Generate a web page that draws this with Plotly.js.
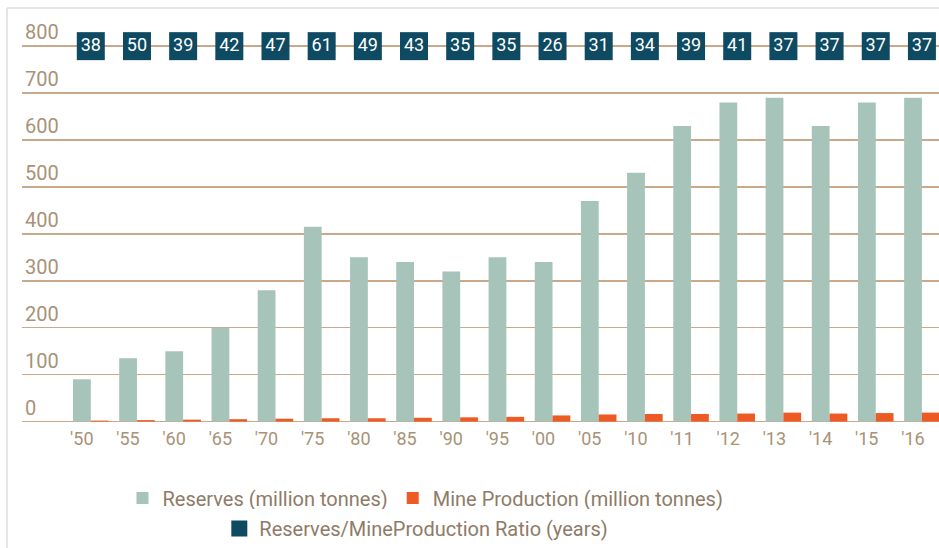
<!DOCTYPE html>
<html>
<head>
<meta charset="utf-8">
<script src="https://cdn.plot.ly/plotly-3.0.1.min.js"></script>
<style>html,body{margin:0;padding:0;background:#fff;}#chart{width:939px;height:548px;}</style>
</head>
<body>
<div id="chart"></div>
<script>
const years = ["'50","'55","'60","'65","'70","'75","'80","'85","'90","'95","'00","'05","'10","'11","'12","'13","'14","'15","'16"];
const reserves = [90,135,150,200,280,415,350,340,320,350,340,470,530,630,680,690,630,680,690];
const production = [2,3,4,5,6,7,7,8,9,10,13,15,16,16,17,19,17,18,19];
const ratio = [38,50,39,42,47,61,49,43,35,35,26,31,34,39,41,37,37,37,37];
const yTicks = [0,100,200,300,400,500,600,700,800];

const ratioRow = 800; // vertical placement of the ratio labels

const tan = '#a89278';
const font = 'Roboto, Open Sans, sans-serif';

const traces = [
  {type:'bar', name:'Reserves (million tonnes)', x:years, y:reserves,
   marker:{color:'#a7c4bb'}, hoverinfo:'y', legend:'legend'},
  {type:'bar', name:'Mine Production (million tonnes)', x:years, y:production,
   marker:{color:'#ee5a24'}, hoverinfo:'y', legend:'legend'},
  {type:'scatter', mode:'markers+text', name:'Reserves/MineProduction Ratio (years)',
   x:years, y:years.map(()=>ratioRow), text:ratio.map(String),
   textposition:'middle center', textfont:{color:'#ffffff', size:18, family:font},
   marker:{symbol:'square', size:28, color:'#0e4a62'}, cliponaxis:false, legend:'legend2'}
];

const legendFont = {size:20, color:'#8e7b68', family:font};

const layout = {
  width:939, height:548,
  margin:{l:22, r:0, t:18, b:124},
  paper_bgcolor:'#ffffff', plot_bgcolor:'#ffffff',
  barmode:'group', bargap:0.23, bargroupgap:0,
  font:{family:font, color:tan},
  showlegend:true,
  legend:{orientation:'h', x:0.44, xanchor:'center', y:-0.14, yanchor:'top',
          font:legendFont, traceorder:'normal', itemclick:false},
  legend2:{orientation:'h', x:0.43, xanchor:'center', y:-0.2165, yanchor:'top',
          font:legendFont, itemclick:false},
  xaxis:{type:'category', range:[-1.49,18.37], showgrid:false, zeroline:false,
         showline:false, ticks:'', tickfont:{size:18, color:tan}, ticklabelshift:-9,
         ticklabelstandoff:4, fixedrange:true},
  yaxis:{range:[-1,860], tickvals:yTicks, ticktext:yTicks.map(String),
         showgrid:true, gridcolor:'#c9a98a', gridwidth:1.5,
         zeroline:true, zerolinecolor:'#c9a98a', zerolinewidth:1.5,
         showline:false, ticks:'', ticklabelposition:'inside', ticklabelshift:-14,
         tickfont:{size:20, color:tan}, fixedrange:true},
  shapes:[
    {type:'line', xref:'paper', yref:'paper', x0:-0.0164, x1:1.01, y0:1.0246, y1:1.0246, line:{color:'#dddddd', width:1.5}},
    {type:'line', xref:'paper', yref:'paper', x0:-0.0164, x1:-0.0164, y0:1.0246, y1:-0.4, line:{color:'#dddddd', width:1.5}}
  ]
};

Plotly.newPlot('chart', traces, layout, {displayModeBar:false, staticPlot:true});
</script>
</body>
</html>
